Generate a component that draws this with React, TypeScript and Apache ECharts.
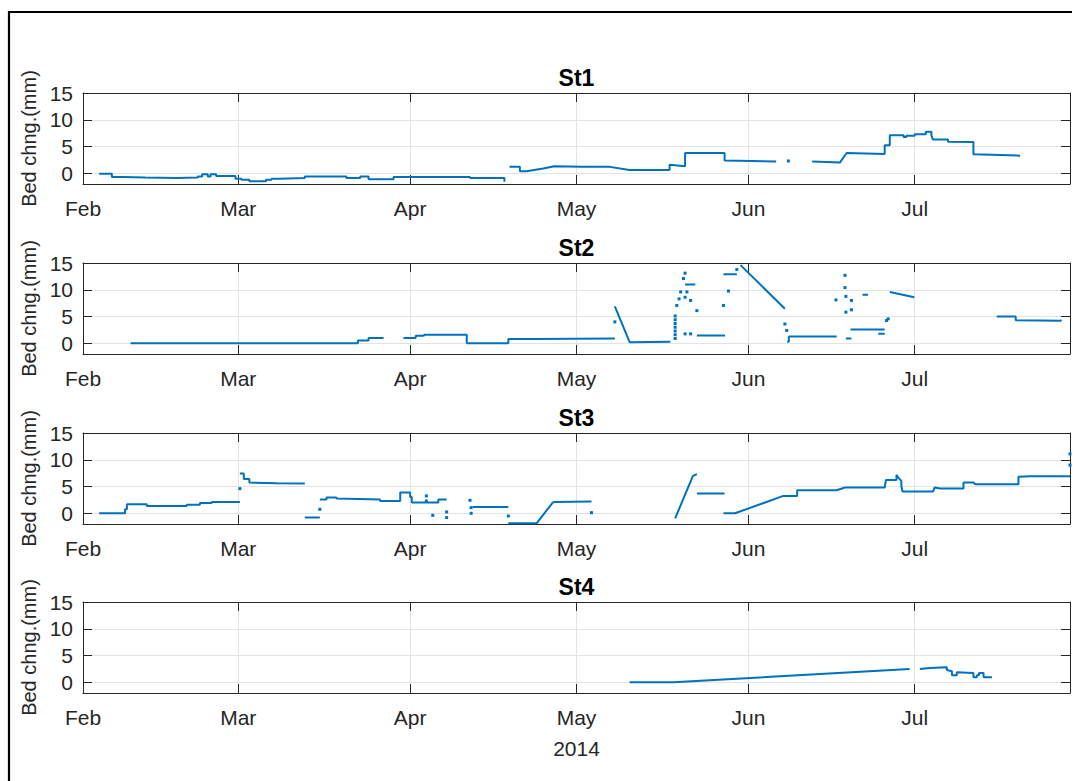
import React, { useEffect, useRef } from "react";
import * as echarts from "echarts";

const YEAR = "2014";
const MONTHS = ["Jan", "Feb", "Mar", "Apr", "May", "Jun", "Jul", "Aug", "Sep", "Oct", "Nov", "Dec"];
const monthTicks = ["2014-02-01", "2014-03-01", "2014-04-01", "2014-05-01", "2014-06-01", "2014-07-01"];
const xMin = "2014-02-01";
const xMax = "2014-07-29";
const yMin = -2;
const yMax = 15;
const yTicks = [0, 5, 10, 15];
const titles = ["St1", "St2", "St3", "St4"];
const yLabel = "Bed chng.(mm)";
const xLabel = "2014";

type P = [string, number | null];

const st1Line: P[] = [
  ["02-03 22", -0.1], ["02-06 05", -0.1], ["02-06 05", -0.7], ["02-08 05", -0.7], ["02-08 05", -0.8], ["02-12 05", -0.8],
  ["02-12 05", -0.9], ["02-17 22", -0.9], ["02-17 22", -0.8], ["02-21 17", -0.8], ["02-21 17", -0.6], ["02-22 12", -0.6],
  ["02-22 12", -0.2], ["02-23 12", -0.2], ["02-23 12", -0.6], ["02-24 00", -0.6], ["02-24 00", -0.2], ["02-25 00", -0.2],
  ["02-25 00", -0.5], ["02-28 12", -0.5], ["02-28 12", -1.0], ["03-01 14", -1.0], ["03-01 14", -1.2], ["03-03 00", -1.2],
  ["03-03 00", -1.5], ["03-06 00", -1.5], ["03-06 00", -1.2], ["03-07 00", -1.2], ["03-07 00", -1.0], ["03-08 12", -1.0],
  ["03-08 12", -0.9], ["03-13 00", -0.9], ["03-13 00", -0.6], ["03-20 12", -0.6], ["03-20 12", -0.9], ["03-23 00", -0.9],
  ["03-23 00", -0.6], ["03-24 12", -0.6], ["03-24 12", -1.1], ["03-29 00", -1.1], ["03-29 00", -0.7], ["04-11 19", -0.7],
  ["04-11 19", -0.9], ["04-18 00", -0.9], ["04-18 00", -1.6],
  ["04-18 12", null],
  ["04-18 22", 1.2], ["04-20 19", 1.2], ["04-20 19", 0.4], ["04-22 00", 0.4], ["04-25 00", 0.9], ["04-27 00", 1.3],
  ["05-02 00", 1.2], ["05-07 00", 1.2], ["05-10 14", 0.6], ["05-17 19", 0.6], ["05-17 19", 1.6], ["05-20 14", 1.3],
  ["05-20 14", 3.8], ["05-27 17", 3.8], ["05-27 17", 2.4], ["06-06 00", 2.2],
  ["06-07 00", null],
  ["06-12 12", 2.2], ["06-17 12", 2.0], ["06-18 17", 3.8], ["06-25 14", 3.6], ["06-25 14", 5.25], ["06-26 12", 5.25],
  ["06-26 12", 7.1], ["06-29 00", 7.1], ["06-29 00", 6.8], ["06-29 12", 6.8], ["06-29 12", 7.0], ["07-01 00", 7.0],
  ["07-01 00", 7.3], ["07-03 00", 7.3], ["07-03 00", 7.75], ["07-04 00", 7.75], ["07-04 00", 7.1], ["07-04 07", 6.3],
  ["07-07 00", 6.3], ["07-07 00", 5.9], ["07-11 14", 5.85], ["07-11 14", 3.55], ["07-20 00", 3.3],
];
const st1Dots: P[] = [["06-08 05", 2.3]];

const st2Line: P[] = [
  ["02-09 14", 0], ["03-22 14", 0], ["03-22 14", 0.5], ["03-24 12", 0.5], ["03-24 12", 1.0], ["03-27 05", 1.0],
  ["03-28 00", null],
  ["03-30 19", 1.0], ["04-02 00", 1.0], ["04-02 00", 1.4], ["04-03 12", 1.4], ["04-03 12", 1.6], ["04-11 05", 1.6],
  ["04-11 05", 0], ["04-18 17", 0], ["04-18 17", 0.8], ["04-23 05", 0.8], ["04-23 05", 0.9], ["05-07 22", 0.9],
  ["05-07 22", null],
  ["05-07 22", 6.9], ["05-10 14", 0.2], ["05-17 22", 0.3],
  ["05-18 00", null],
  ["05-20 14", 11.0], ["05-22 10", 11.0],
  ["05-22 12", null],
  ["05-22 17", 1.45], ["05-27 19", 1.45],
  ["05-27 19", null],
  ["05-27 12", 12.9], ["05-29 22", 12.9],
  ["05-30 00", null],
  ["05-30 14", 14.6], ["06-07 14", 6.45],
  ["06-07 20", null],
  ["06-08 00", 0.3], ["06-08 07", 0.3], ["06-08 07", 1.25], ["06-16 22", 1.25],
  ["06-17 00", null],
  ["06-18 14", 0.9], ["06-19 14", 0.9],
  ["06-19 14", null],
  ["06-19 10", 2.57], ["06-25 14", 2.57],
  ["06-25 14", null],
  ["06-24 10", 1.76], ["06-25 14", 1.76],
  ["06-25 14", null],
  ["06-21 14", 9.07], ["06-22 14", 9.07],
  ["06-23 00", null],
  ["06-26 12", 9.6], ["06-30 22", 8.6],
  ["07-01 00", null],
  ["07-15 19", 5.0], ["07-19 05", 5.0], ["07-19 05", 4.3], ["07-27 05", 4.2], ["07-27 12", 4.3],
];
const st2Dots: P[] = [
  ["05-07 22", 4.0], ["05-18 19", 0.9], ["05-18 19", 1.6], ["05-18 19", 2.3], ["05-18 19", 3.0], ["05-18 19", 3.7],
  ["05-18 19", 4.4], ["05-18 19", 5.1], ["05-19 02", 7.07], ["05-19 12", 8.3], ["05-19 19", 9.6], ["05-20 07", 12.1],
  ["05-20 14", 13.1], ["05-20 14", 8.6], ["05-20 22", 9.6], ["05-21 14", 8.0], ["05-22 17", 6.1], ["05-20 14", 1.76],
  ["05-21 14", 1.76], ["05-27 12", 7.07], ["05-28 10", 9.76], ["05-29 22", 13.8], ["06-07 14", 3.6], ["06-07 22", 2.4],
  ["06-16 19", 8.1], ["06-18 10", 12.7], ["06-18 10", 10.4], ["06-18 14", 8.76], ["06-19 14", 8.0], ["06-18 14", 5.82],
  ["06-19 14", 6.26], ["06-25 22", 4.26], ["06-26 05", 4.57],
];

const st3Line: P[] = [
  ["02-03 22", 0], ["02-08 14", 0], ["02-08 14", 0.75], ["02-08 22", 0.75], ["02-08 22", 1.68], ["02-12 12", 1.68],
  ["02-12 12", 1.37], ["02-19 17", 1.37], ["02-19 17", 1.6], ["02-22 02", 1.6], ["02-22 02", 1.9], ["02-24 05", 1.9],
  ["02-24 05", 2.1], ["03-01 07", 2.1],
  ["03-01 07", null],
  ["03-01 07", 7.43], ["03-02 00", 7.43], ["03-02 00", 6.4], ["03-03 00", 6.4], ["03-03 00", 5.75], ["03-08 00", 5.6],
  ["03-13 00", 5.56],
  ["03-13 00", null],
  ["03-13 00", -0.8], ["03-15 17", -0.8],
  ["03-15 17", null],
  ["03-15 17", 2.6], ["03-16 22", 2.6], ["03-16 22", 2.94], ["03-18 17", 2.94], ["03-18 17", 2.75], ["03-26 14", 2.6],
  ["03-26 14", 2.3], ["03-30 05", 2.3], ["03-30 05", 3.87], ["04-01 00", 3.87], ["04-01 00", 3.06], ["04-01 07", 3.06],
  ["04-01 07", 2.0], ["04-06 02", 2.0], ["04-06 02", 2.6], ["04-07 14", 2.6],
  ["04-08 00", null],
  ["04-12 07", 1.19], ["04-18 17", 1.19],
  ["04-18 17", null],
  ["04-18 17", -1.88], ["04-23 19", -1.88], ["04-26 17", 2.0], ["04-27 00", 2.1], ["05-03 17", 2.2],
  ["05-04 00", null],
  ["05-18 19", -0.95], ["05-22 00", 7.0], ["05-22 17", 7.3],
  ["05-22 17", null],
  ["05-22 17", 3.7], ["05-27 17", 3.7],
  ["05-27 17", null],
  ["05-27 12", 0], ["05-29 14", 0], ["06-07 07", 3.25], ["06-09 19", 3.25], ["06-09 19", 4.31], ["06-16 22", 4.31],
  ["06-18 10", 4.81], ["06-25 14", 4.81], ["06-25 19", 6.2], ["06-27 17", 6.2], ["06-27 17", 7.2], ["06-28 00", 6.7],
  ["06-28 14", 6.06], ["06-28 14", 5.1], ["06-28 19", 4.06], ["07-04 07", 4.06], ["07-04 14", 4.81], ["07-05 14", 4.62],
  ["07-09 19", 4.62], ["07-09 19", 5.75], ["07-11 14", 5.75], ["07-11 22", 5.44], ["07-19 17", 5.44], ["07-19 17", 6.81],
  ["07-21 19", 6.94], ["07-29 00", 6.94],
];
const st3Dots: P[] = [
  ["03-01 07", 4.6], ["03-15 17", 0.75], ["04-03 22", 3.25], ["04-03 22", 2.3], ["04-05 02", -0.38], ["04-07 14", 0.25],
  ["04-07 14", -0.8], ["04-11 19", 2.43], ["04-12 00", 1.06], ["04-12 00", 0.0], ["04-18 17", -0.5], ["05-03 17", 0.12],
  ["07-29 00", 11.1], ["07-29 00", 9.0],
];

const st4Line: P[] = [
  ["05-10 14", 0], ["05-18 12", 0], ["06-30 02", 2.5],
  ["06-30 12", null],
  ["07-01 22", 2.5], ["07-03 17", 2.69], ["07-06 19", 2.81], ["07-06 19", 2.3], ["07-07 17", 2.05], ["07-07 17", 1.3],
  ["07-08 14", 1.3], ["07-08 14", 1.88], ["07-11 14", 1.75], ["07-11 14", 0.94], ["07-12 05", 0.94], ["07-12 05", 1.3],
  ["07-12 14", 1.3], ["07-12 14", 1.75], ["07-13 10", 1.75], ["07-13 10", 0.94], ["07-14 22", 0.94],
];
const st4Dots: P[] = [];

const lines = [st1Line, st2Line, st3Line, st4Line];
const dots = [st1Dots, st2Dots, st3Dots, st4Dots];

const FONT = "'Liberation Sans', Arial, Helvetica, sans-serif";
const AX = "#262626";
const GRIDC = "#e3e3e3";
const BLUE = "#0072BD";
const tops = [93, 263, 433, 602];
const H = 91;

const ts = (s: string) => +echarts.time.parse(s);

export default function App() {
  const ref = useRef<HTMLDivElement>(null);
  useEffect(() => {
    if (!ref.current) return;
    const chart = echarts.init(ref.current, null, { renderer: "svg" });
    const full = (pts: P[]) => pts.map(([t, v]) => [ts(`${YEAR}-${t}`), v == null ? "-" : v]);
    const mTicks = monthTicks.map(ts);
    const grid = tops.map((t) => ({ left: 83, right: 5, top: t, height: H, containLabel: false, outerBoundsMode: "none" }));
    const tickStyle = { show: true, inside: true, length: 9, lineStyle: { color: AX, width: 1 } };
    const lineStyleAx = { show: true, onZero: false, lineStyle: { color: AX, width: 1 } };
    const xBottom = tops.map((_, i) => ({
      type: "value",
      gridIndex: i,
      min: ts(xMin),
      max: ts(xMax),
      position: "bottom",
      axisLine: lineStyleAx,
      axisTick: { ...tickStyle, customValues: mTicks },
      axisLabel: {
        customValues: mTicks,
        formatter: (v: number) => MONTHS[new Date(v).getMonth()],
        color: AX,
        fontSize: 21,
        fontFamily: FONT,
        margin: 14,
        hideOverlap: false,
      },
      splitLine: { show: true, lineStyle: { color: GRIDC, width: 1 } },
      name: i === 3 ? xLabel : "",
      nameLocation: "middle",
      nameGap: 45,
      nameTextStyle: { color: AX, fontSize: 21, fontFamily: FONT },
    }));
    const xTop = tops.map((_, i) => ({
      type: "value",
      gridIndex: i,
      min: ts(xMin),
      max: ts(xMax),
      position: "top",
      axisLine: lineStyleAx,
      axisTick: { ...tickStyle, customValues: mTicks },
      axisLabel: { show: false },
      splitLine: { show: false },
      name: titles[i],
      nameLocation: "middle",
      nameGap: 4,
      nameTextStyle: { color: "#000", fontSize: 23, fontWeight: "bold", fontFamily: FONT },
    }));
    const yLeft = tops.map((_, i) => ({
      type: "value",
      gridIndex: i,
      min: yMin,
      max: yMax,
      position: "left",
      axisLine: lineStyleAx,
      axisTick: { ...tickStyle, customValues: yTicks },
      axisLabel: { customValues: yTicks, color: AX, fontSize: 21, fontFamily: FONT, margin: 10 },
      splitLine: { show: true, lineStyle: { color: GRIDC, width: 1 } },
      name: yLabel,
      nameLocation: "middle",
      nameGap: 42,
      nameTextStyle: { color: AX, fontSize: 20, fontFamily: FONT },
    }));
    const yRight = tops.map((_, i) => ({
      type: "value",
      gridIndex: i,
      min: yMin,
      max: yMax,
      position: "right",
      axisLine: lineStyleAx,
      axisTick: { ...tickStyle, customValues: yTicks },
      axisLabel: { show: false },
      splitLine: { show: false },
    }));
    const series: any[] = [];
    lines.forEach((pts, i) => {
      series.push({
        type: "line",
        xAxisIndex: i,
        yAxisIndex: i,
        data: full(pts),
        showSymbol: false,
        symbol: "none",
        connectNulls: false,
        lineStyle: { color: BLUE, width: 2 },
        z: 3,
      });
      if (dots[i].length) {
        series.push({
          type: "scatter",
          xAxisIndex: i,
          yAxisIndex: i,
          data: full(dots[i]),
          symbol: "rect",
          symbolSize: 3,
          itemStyle: { color: BLUE, opacity: 1 },
          z: 3,
        });
      }
    });
    chart.setOption({
      animation: false,
      backgroundColor: "#fff",
      grid,
      xAxis: [...xBottom, ...xTop],
      yAxis: [...yLeft, ...yRight],
      series,
      graphic: [
        {
          type: "polyline",
          shape: { points: [[9, 790], [9, 12], [1072, 12]] },
          style: { stroke: "#000", lineWidth: 2.2, fill: null },
          silent: true,
        },
      ],
    });
    return () => chart.dispose();
  }, []);
  return <div ref={ref} style={{ position: "fixed", left: 0, top: 0, width: 1075, height: 781 }} />;
}
